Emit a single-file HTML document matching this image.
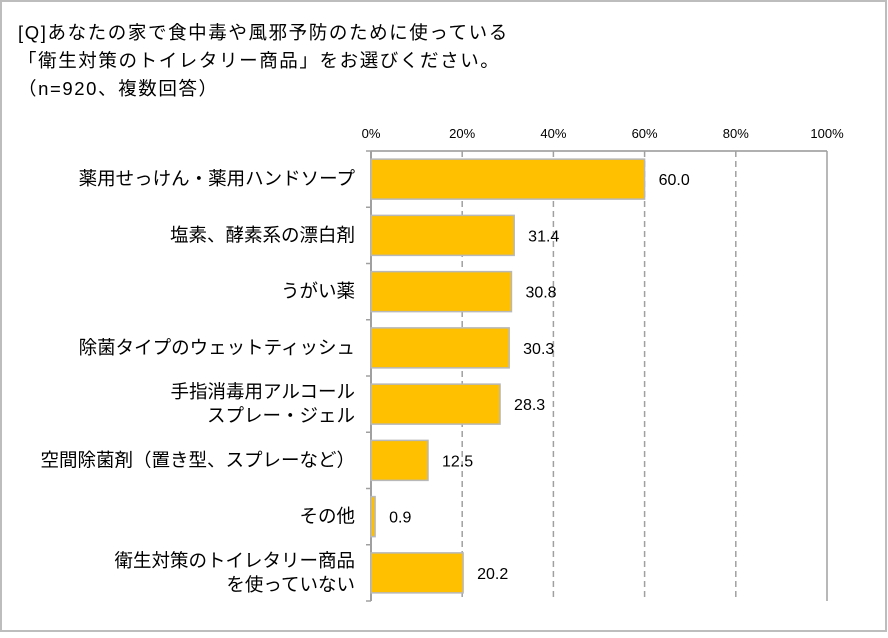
<!DOCTYPE html>
<html><head><meta charset="utf-8"><style>
body{margin:0;background:#fff;}
svg text{font-family:"Liberation Sans","Noto Sans CJK JP",sans-serif;}
</style></head><body>
<svg width="888" height="633" id="chart">
<rect x="1" y="1" width="885" height="630" fill="#fff" stroke="#bdbdbd" stroke-width="2"/>
<g font-size="18.5" letter-spacing="1.6" fill="#000">
<text x="18" y="39">[Q]あなたの家で食中毒や風邪予防のために使っている</text>
<text x="18" y="67">「衛生対策のトイレタリー商品」をお選びください。</text>
<text x="18" y="95">（n=920、複数回答）</text>
</g>
<g id="grid"></g><g id="bars"></g><g id="labels"></g>
</svg>
<script>
const categories=[["薬用せっけん・薬用ハンドソープ"],["塩素、酵素系の漂白剤"],["うがい薬"],["除菌タイプのウェットティッシュ"],["手指消毒用アルコール","スプレー・ジェル"],["空間除菌剤（置き型、スプレーなど）"],["その他"],["衛生対策のトイレタリー商品","を使っていない"]];
const values=[60.0,31.4,30.8,30.3,28.3,12.5,0.9,20.2];
const ticks=[0,20,40,60,80,100];
const tickLabels=["0%","20%","40%","60%","80%","100%"];
const NS="http://www.w3.org/2000/svg";
const x0=371,x1=827,yTop=151,yBot=601;
const xs=v=>x0+(x1-x0)*v/100;
const band=(yBot-yTop)/categories.length;
function mk(t,a,p){const e=document.createElementNS(NS,t);for(const k in a)e.setAttribute(k,a[k]);p.appendChild(e);return e;}
const grid=document.getElementById('grid'),bars=document.getElementById('bars'),labels=document.getElementById('labels');
mk('line',{x1:x0,y1:yTop,x2:x1,y2:yTop,stroke:'#b0b0b0','stroke-width':2},grid);
ticks.forEach((t,i)=>{
 const x=xs(t);
 if(i>0){const l=mk('line',{x1:x,y1:yTop,x2:x,y2:yBot,stroke:'#a0a0a0','stroke-width':1.5,'stroke-dasharray':i==ticks.length-1?'':'6,4'},grid);
 
 }
 const tx=mk('text',{x:x,y:138,'text-anchor':'middle','font-size':13},grid);tx.textContent=tickLabels[i];
 
 
});
const ax=mk('line',{x1:x0,y1:yTop,x2:x0,y2:yBot,stroke:'#a0a0a0','stroke-width':2},grid);


for(let i=0;i<=categories.length;i++){mk('line',{x1:x0-5,y1:yTop+i*band,x2:x0,y2:yTop+i*band,stroke:'#a0a0a0','stroke-width':1.5},grid);}
categories.forEach((c,i)=>{
 const yc=yTop+band*(i+0.5);
 const r=mk('rect',{x:x0,y:yc-20,width:xs(values[i])-x0,height:40,fill:'#ffc000',stroke:'#b8b8b8','stroke-width':1.5},bars);
 
 
 const v=mk('text',{x:xs(values[i])+14,y:yc+6,'font-size':16},labels);v.textContent=values[i].toFixed(1);
 
 
 c.forEach((line,j)=>{
  const t=mk('text',{x:355,y:yc+6+(j-(c.length-1)/2)*24,'text-anchor':'end','font-size':18.5},labels);t.textContent=line;
  
  
 });
});
</script>
</body></html>
